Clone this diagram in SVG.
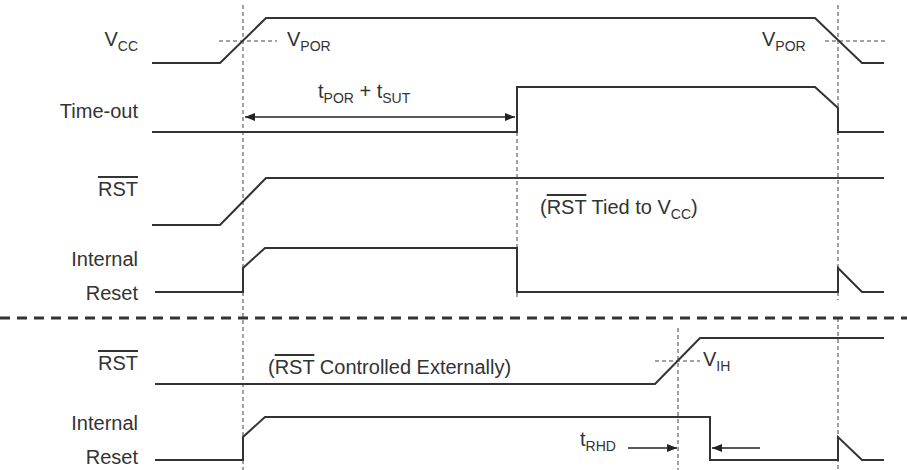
<svg xmlns="http://www.w3.org/2000/svg" width="907" height="470" viewBox="0 0 907 470">
<style>
.w{fill:none;stroke:#333;stroke-width:2}
.d{fill:none;stroke:#444;stroke-width:1;stroke-dasharray:4,3}
.b{fill:none;stroke:#333;stroke-width:3;stroke-dasharray:10,7}
.a{fill:none;stroke:#222;stroke-width:1.3}
text{font-family:"Liberation Sans",Arial,sans-serif;font-size:20px;fill:#333}
.r{text-anchor:end}
.s{font-size:14px}
</style>
<defs>
<marker id="ah" markerWidth="10" markerHeight="8" refX="10" refY="4" orient="auto-start-reverse" markerUnits="userSpaceOnUse"><path d="M0,0L10,4L0,8z" fill="#222"/></marker>
</defs>
<rect width="907" height="470" fill="#fff"/>
<g id="labels">
<text class="r" x="138" y="46">V<tspan class="s" dy="5">CC</tspan></text>
<text class="r" x="138" y="118">Time-out</text>
<text class="r" x="138" y="196" text-decoration="overline">RST</text>
<text class="r" x="138" y="266">Internal</text>
<text class="r" x="138" y="300">Reset</text>
<text class="r" x="138" y="370" text-decoration="overline">RST</text>
<text class="r" x="138" y="430">Internal</text>
<text class="r" x="138" y="464">Reset</text>
</g>
<g id="guides">
<path class="d" d="M243,5V470M517,132V300M838,5V300M678,328V470"/>
<path class="d" d="M838,318V470"/>
<path class="b" d="M0,318H907"/>
<path class="d" d="M219,41H277M825,41H888M655,361H700"/>
</g>
<g id="waves">
<path id="vcc" class="w" d="M152,63H220L266,18H815L862,63H884"/>
<path id="timeout" class="w" d="M152,132H517V87H815L838,108V132H884"/>
<path id="rst1" class="w" d="M152,225H220L266,178H884"/>
<path id="ir1" class="w" d="M155,292H243V268L265,248H517V292H838V268L862,292H884"/>
<path id="rst2" class="w" d="M155,384H655L700,338H884"/>
<path id="ir2" class="w" d="M155,460H243V437L265,417H710V460H838V437L862,460H884"/>
</g>
<g id="connectors">
<path class="a" d="M245,117H515" marker-start="url(#ah)" marker-end="url(#ah)"/>
<path class="a" d="M628,448H677" marker-end="url(#ah)"/>
<path class="a" d="M760,448H712" marker-end="url(#ah)"/>
</g>
<g id="annotations">
<text x="287" y="46">V<tspan class="s" dy="5">POR</tspan></text>
<text x="762" y="46">V<tspan class="s" dy="5">POR</tspan></text>
<text x="318" y="98">t<tspan class="s" dy="5">POR</tspan><tspan dy="-5"> + t</tspan><tspan class="s" dy="5">SUT</tspan></text>
<text x="540" y="214">(<tspan text-decoration="overline">RST</tspan> Tied to V<tspan class="s" dy="5">CC</tspan><tspan dy="-5">)</tspan></text>
<text x="268" y="374">(<tspan text-decoration="overline">RST</tspan> Controlled Externally)</text>
<text x="703" y="366">V<tspan class="s" dy="5">IH</tspan></text>
<text x="580" y="446">t<tspan class="s" dy="5">RHD</tspan></text>
</g>
</svg>
